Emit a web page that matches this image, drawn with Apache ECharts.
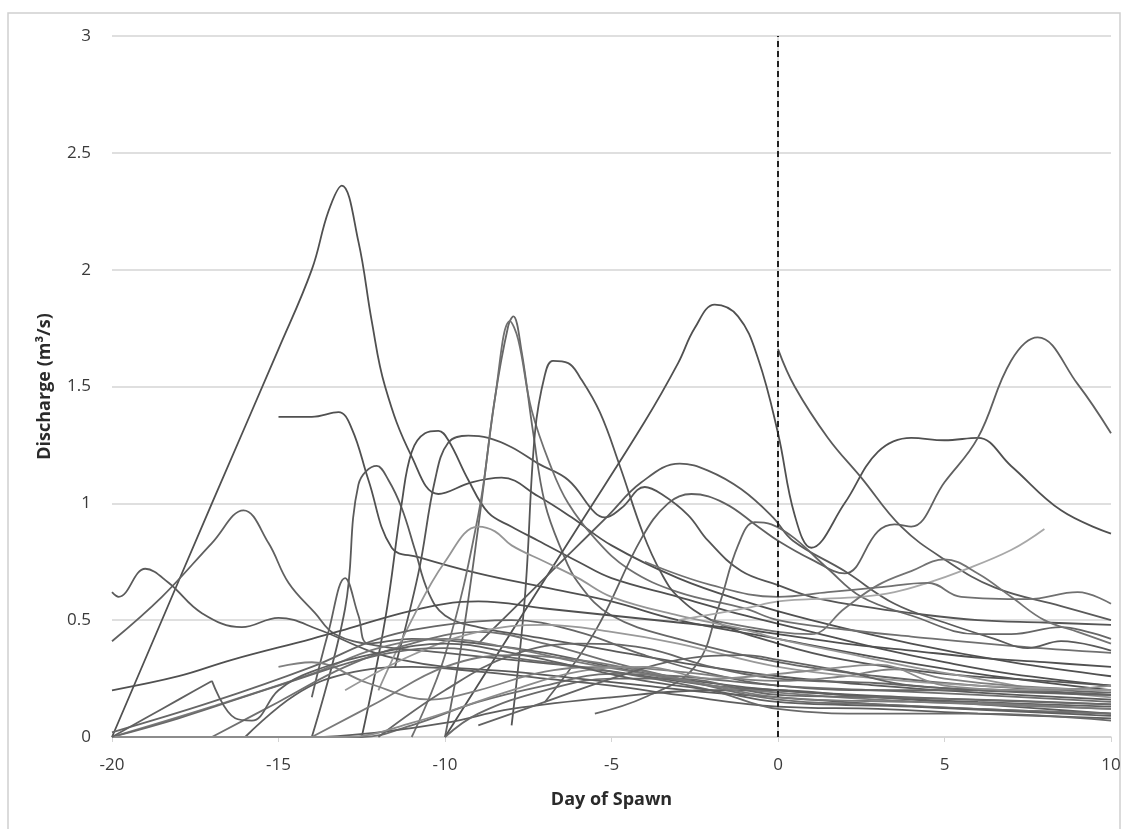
<!DOCTYPE html>
<html><head><meta charset="utf-8">
<script src="https://cdn.jsdelivr.net/npm/echarts@6/dist/echarts.min.js"></script>
<style>html,body{margin:0;padding:0;background:#fff}#c{width:1128px;height:829px}</style>
</head><body><div id="c"></div>
<script>
// Tick labels
const xTicks = [-20, -15, -10, -5, 0, 5, 10];
const yTicks = [0, 0.5, 1, 1.5, 2, 2.5, 3];
const spawnDay = [0];

// Series: [day, discharge] pairs
const sBig = [[-20,0],[-17,1.0],[-15,1.66],[-14,2.0],[-13.5,2.25],[-13.1,2.36],[-12.6,2.12],[-12.2,1.78],[-11.8,1.5],[-11,1.2],[-10.2,1.04],[-9.2,1.09],[-8.3,1.11],[-7.2,1.03],[-6.2,0.94],[-5,0.82],[-3,0.68],[-1,0.58],[1,0.5],[4,0.4],[7,0.32],[10,0.26]];
const sPlateau = [[-15,1.37],[-14,1.37],[-13.2,1.39],[-12.8,1.32],[-12.3,1.1],[-11.6,0.81],[-10.8,0.77],[-9,0.7],[-7,0.64],[-5,0.58],[-3,0.5],[0,0.42],[3,0.34],[6,0.27],[10,0.2]];
const sPeak12 = [[-14,0],[-13,0.55],[-12.6,1.08],[-12.05,1.16],[-11.7,1.1],[-11.3,0.98],[-10.9,0.8],[-10.5,0.62],[-10,0.52],[-9,0.47],[-7,0.42],[-5,0.37],[-3,0.32],[0,0.26],[3,0.22],[6,0.19],[10,0.16]];
const sPeak105 = [[-12.5,0],[-11.8,0.5],[-11.3,1.0],[-11,1.22],[-10.6,1.3],[-10.2,1.31],[-9.9,1.27],[-9.3,1.1],[-8.7,0.96],[-8,0.9],[-7.2,0.84],[-6,0.75],[-5,0.68],[-3,0.6],[-1,0.52],[1,0.45],[3,0.38],[5,0.32],[7,0.27],[10,0.22]];
const sBroad = [[-11.5,0.3],[-10.8,0.7],[-10.3,1.1],[-9.9,1.26],[-9.3,1.29],[-8.7,1.28],[-8,1.24],[-7.2,1.17],[-6.3,1.1],[-5.5,0.96],[-5.2,0.94],[-4.7,0.98],[-4,1.07],[-3.5,1.04],[-2.7,0.95],[-2.1,0.84],[-1.1,0.71],[0,0.65],[1,0.6],[2.5,0.56],[4,0.53],[6,0.5],[8,0.49],[10,0.48]];
const sPeak8a = [[-10,0],[-9.5,0.4],[-9,0.9],[-8.5,1.45],[-8.1,1.76],[-7.95,1.8],[-7.7,1.65],[-7.35,1.3],[-7,1.0],[-6.5,0.8],[-6,0.66],[-5,0.52],[-3,0.42],[0,0.32],[3,0.26],[6,0.22],[10,0.19]];
const sPeak8b = [[-11,0],[-10,0.35],[-9,0.95],[-8.5,1.45],[-8.05,1.78],[-7.8,1.7],[-7.4,1.4],[-6.8,1.15],[-6.3,1.0],[-5.5,0.85],[-4.5,0.72],[-3,0.62],[-1,0.55],[0,0.5],[2,0.46],[4,0.43],[7,0.39],[10,0.36]];
const sPeak7 = [[-8,0.05],[-7.6,0.6],[-7.3,1.3],[-7,1.55],[-6.76,1.61],[-6.3,1.6],[-5.95,1.54],[-5.35,1.39],[-4.75,1.16],[-4.05,0.87],[-3.5,0.7],[-3,0.6],[-2,0.5],[0,0.4],[2,0.33],[5,0.27],[8,0.24],[10,0.22]];
const sPeak2 = [[-10,0],[-8,0.45],[-6,0.9],[-4,1.35],[-3,1.6],[-2.5,1.75],[-1.9,1.85],[-1.2,1.8],[-0.6,1.62],[0,1.3],[0.5,0.95],[1,0.81],[2,1.0],[3,1.22],[4,1.28],[5,1.27],[6,1.28],[7,1.16],[8.5,0.97],[10,0.87]];
const sFromSpawn = [[0,1.66],[0.5,1.5],[1.5,1.28],[2.5,1.11],[3.7,0.9],[5,0.76],[6.5,0.64],[8.5,0.56],[10,0.5]];
const sPeakLate = [[-7,0.15],[-5.5,0.45],[-4.1,0.85],[-3.3,1.0],[-2.6,1.04],[-1.6,1.0],[-0.6,0.9],[0,0.84],[1,0.76],[2,0.7],[3,0.88],[3.5,0.91],[4,0.9],[5,1.09],[6,1.28],[7,1.61],[7.8,1.71],[9,1.51],[10,1.3]];
const sPeak3 = [[-9,0.4],[-7.15,0.66],[-6.15,0.8],[-5.15,0.94],[-4.1,1.09],[-2.95,1.17],[-2.1,1.14],[-1.1,1.06],[-0.15,0.94],[0.45,0.84],[2,0.71],[3.5,0.57],[5,0.49],[6.5,0.42],[7.5,0.38],[8.5,0.41],[10,0.37]];
const sPeak05 = [[-5.5,0.1],[-4,0.17],[-2.5,0.3],[-1.8,0.55],[-1.2,0.82],[-0.7,0.92],[-0.2,0.91],[0.5,0.85],[1.5,0.72],[2.5,0.6],[4,0.52],[6,0.44],[7,0.44],[8.5,0.47],[9.3,0.45],[10,0.42]];
const sPeak16 = [[-20,0.41],[-18.5,0.6],[-17,0.83],[-16.05,0.97],[-15.3,0.83],[-14.7,0.66],[-13.9,0.53],[-13.3,0.44],[-12,0.39],[-10,0.36],[-8,0.33],[-6,0.3],[-4,0.26],[-2,0.22],[0,0.2],[3,0.17],[6,0.15],[10,0.13]];
const sWavy = [[-20,0.62],[-19.8,0.6],[-19,0.72],[-18.3,0.66],[-17.3,0.53],[-16.1,0.47],[-15,0.51],[-13.8,0.46],[-12.3,0.37],[-11.3,0.33],[-10,0.3],[-8,0.28],[-6,0.25],[-4,0.22],[-2,0.19],[0,0.17],[3,0.14],[6,0.12],[10,0.1]];
const sRise20 = [[-20,0.2],[-18,0.26],[-16.4,0.33],[-14,0.42],[-13,0.46],[-11.3,0.53],[-10,0.57],[-9,0.58],[-7,0.55],[-5,0.52],[-3,0.49],[-1,0.46],[0,0.44],[2,0.4],[4,0.37],[6,0.34],[8,0.32],[10,0.3]];
const sBump13 = [[-14,0.17],[-13.5,0.45],[-13,0.68],[-12.6,0.52],[-12.3,0.4],[-11,0.42],[-9,0.4],[-7,0.36],[-5,0.3],[-3,0.25],[0,0.2],[4,0.17],[10,0.14]];
const sPeak9 = [[-12,0.2],[-11,0.5],[-10,0.75],[-9,0.9],[-8.5,0.88],[-8,0.82],[-7,0.75],[-6,0.68],[-5,0.6],[-3,0.52],[-1,0.46],[0,0.42],[2,0.36],[4,0.3],[6,0.25],[8,0.2],[10,0.17]];
const sLightLate = [[-3,0.5],[-1,0.55],[0,0.58],[1,0.59],[2.5,0.6],[3.5,0.62],[4.5,0.66],[5.5,0.71],[7,0.8],[8,0.89]];
const sBump5 = [[-2,0.5],[0,0.45],[1,0.44],[2,0.55],[3,0.65],[4,0.71],[5,0.76],[6,0.7],[7,0.6],[8,0.5],[9,0.45],[10,0.4]];
const sFlat6 = [[-4,0.75],[-2,0.65],[0,0.6],[1.5,0.62],[3,0.64],[4.5,0.66],[5.5,0.6],[7.5,0.59],[9,0.62],[10,0.57]];
const sLow1 = [[-20,0],[-15,0],[-12.5,0],[-11,0.05],[-9,0.15],[-7,0.22],[-5,0.27],[-3,0.26],[0,0.22],[3,0.2],[6,0.18],[10,0.15]];
const sLow2 = [[-20,0],[-14,0],[-12,0.02],[-10,0.06],[-8,0.12],[-5,0.17],[-2,0.2],[0,0.2],[2,0.18],[5,0.15],[8,0.12],[10,0.1]];
const sLow3 = [[-20,0],[-17,0.13],[-14,0.27],[-12,0.38],[-10,0.42],[-8,0.38],[-6,0.32],[-4,0.27],[-2,0.22],[0,0.19],[3,0.16],[6,0.14],[10,0.12]];
const sLow4 = [[-20,0.02],[-17,0.15],[-14,0.3],[-12,0.42],[-10,0.48],[-8,0.5],[-6,0.45],[-4,0.35],[-2,0.27],[0,0.22],[3,0.2],[6,0.2],[10,0.18]];
const sLow5 = [[-17,0],[-15,0.15],[-13,0.3],[-11,0.4],[-9,0.45],[-7,0.4],[-5,0.32],[-3,0.25],[0,0.16],[3,0.14],[6,0.12],[10,0.1]];
const sLow6 = [[-16,0],[-14.5,0.18],[-13,0.27],[-11,0.3],[-9,0.28],[-7,0.25],[-5,0.22],[-3,0.18],[0,0.13],[3,0.12],[6,0.1],[10,0.08]];
const sLow7 = [[-15,0.3],[-14,0.32],[-12.3,0.23],[-10.4,0.16],[-9,0.2],[-7,0.28],[-5,0.3],[-3,0.28],[0,0.24],[2,0.26],[3.5,0.29],[5,0.25],[7,0.22],[10,0.2]];
const sLow8 = [[-10,0],[-9,0.1],[-7,0.2],[-5,0.25],[-3,0.25],[0,0.18],[3,0.17],[6,0.16],[10,0.14]];
const sLow9 = [[-12,0],[-10,0.2],[-8,0.35],[-6,0.4],[-4,0.38],[-2,0.3],[0,0.25],[3,0.23],[6,0.2],[10,0.18]];
const sLow10 = [[-14,0],[-12,0.15],[-10,0.3],[-8,0.35],[-6,0.33],[-4,0.28],[-2,0.22],[0,0.17],[4,0.15],[7,0.14],[10,0.12]];
const sLow11 = [[-13,0.2],[-11,0.35],[-9,0.45],[-7,0.48],[-5,0.45],[-3,0.4],[0,0.3],[3,0.25],[6,0.22],[10,0.2]];
const sLow12 = [[-20,0],[-18,0.08],[-15,0.22],[-12,0.35],[-10,0.38],[-8,0.34],[-5,0.28],[-2,0.2],[0,0.12],[3,0.1],[6,0.1],[10,0.07]];
const sLow13 = [[-9,0.05],[-7,0.15],[-5,0.25],[-3,0.33],[-1,0.35],[0,0.33],[2,0.28],[4,0.22],[7,0.2],[10,0.18]];
const sLow14 = [[-20,0],[-13,0],[-11,0.06],[-8,0.2],[-6,0.28],[-4,0.3],[-2,0.25],[0,0.27],[2,0.3],[3,0.31],[5,0.22],[8,0.2],[10,0.22]];
const sLow15 = [[-17,0.24],[-16.3,0.08],[-15.8,0.07],[-15,0.2],[-14,0.28],[-12,0.36],[-10,0.4],[-8,0.36],[-6,0.3],[-4,0.24],[-2,0.2],[0,0.15],[4,0.13],[10,0.09]];
const sLow15a = [[-20,0],[-18.5,0.12],[-17.5,0.2],[-17,0.24]];

const seriesList = [
  [sBig,'#505050'],[sPlateau,'#505050'],[sPeak12,'#5a5a5a'],[sPeak105,'#505050'],[sBroad,'#555'],
  [sPeak8a,'#666'],[sPeak8b,'#707070'],[sPeak7,'#555'],[sPeak2,'#505050'],[sFromSpawn,'#5a5a5a'],
  [sPeakLate,'#606060'],[sPeak3,'#5a5a5a'],[sPeak05,'#666'],[sPeak16,'#606060'],[sWavy,'#5a5a5a'],
  [sRise20,'#505050'],[sBump13,'#606060'],[sPeak9,'#959595'],[sLightLate,'#a8a8a8'],[sBump5,'#737373'],
  [sFlat6,'#707070'],[sLow1,'#6e6e6e'],[sLow2,'#5e5e5e'],[sLow3,'#7a7a7a'],[sLow4,'#666'],[sLow5,'#707070'],
  [sLow6,'#5e5e5e'],[sLow7,'#808080'],[sLow8,'#6a6a6a'],[sLow9,'#666'],[sLow10,'#7a7a7a'],[sLow11,'#999'],
  [sLow12,'#6a6a6a'],[sLow13,'#636363'],[sLow14,'#8c8c8c'],[sLow15,'#606060'],[sLow15a,'#606060']
];

const chart = echarts.init(document.getElementById('c'), null, {renderer:'canvas'});
const series = seriesList.map(([d,c]) => ({
  type:'line', data:d, smooth:0.4, showSymbol:false, symbol:'none',
  lineStyle:{color:c, width:1.8}, silent:true, z:2
}));
series.push({
  type:'line', data:[], silent:true, symbol:'none',
  markLine:{
    silent:true, symbol:['none','none'], label:{show:false},
    lineStyle:{color:'#222', width:2, type:[6,4]},
    data:[{xAxis:spawnDay[0]}]
  }
});

chart.setOption({
  animation:false,
  backgroundColor:'#fff',
  grid:{left:112, right:17, top:36, bottom:92, containLabel:false},
  graphic:[{type:'rect', shape:{x:8,y:13,width:1112,height:840}, style:{fill:'none', stroke:'#d0d0d0', lineWidth:1.5}, silent:true}],
  xAxis:{
    type:'value', min:xTicks[0], max:xTicks[xTicks.length-1], interval:5,
    name:'Day of Spawn', nameLocation:'middle', nameGap:54,
    nameTextStyle:{fontFamily:'Open Sans', fontSize:18, fontWeight:'bold', color:'#2a2a2a'},
    axisLine:{show:true, lineStyle:{color:'#d4d4d4', width:1.5}},
    axisTick:{show:true, length:5, lineStyle:{color:'#d4d4d4'}},
    splitLine:{show:false},
    axisLabel:{fontFamily:'Open Sans', fontSize:17, color:'#3a3a3a', margin:20}
  },
  yAxis:{
    type:'value', min:yTicks[0], max:yTicks[yTicks.length-1], interval:0.5,
    name:'Discharge (m\u00b3/s)', nameLocation:'middle', nameGap:58, nameRotate:90,
    nameTextStyle:{fontFamily:'Open Sans', fontSize:18, fontWeight:'bold', color:'#2a2a2a'},
    axisLine:{show:true, lineStyle:{color:'#d4d4d4', width:1.5}},
    axisTick:{show:false},
    splitLine:{show:true, lineStyle:{color:'#d4d4d4', width:1.5}},
    axisLabel:{fontFamily:'Open Sans', fontSize:17, color:'#3a3a3a', margin:21}
  },
  series:series
});
</script></body></html>
